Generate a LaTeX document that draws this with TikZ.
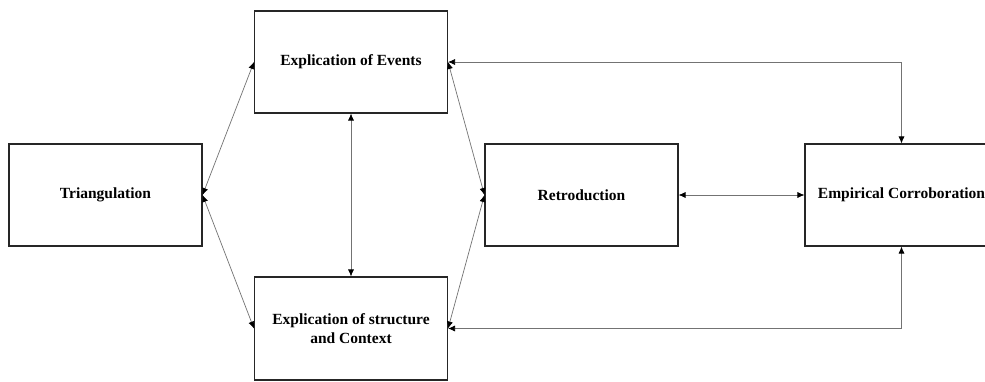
\documentclass[tikz,border=0pt]{standalone}
\usepackage{fontspec}
\setmainfont{Liberation Serif}
\usetikzlibrary{arrows.meta}
\begin{document}
\begin{tikzpicture}[x=1pt,y=-1pt,
  box/.style={draw=black!85,line width=1.1pt,fill=white,minimum width=193pt,minimum height=102pt,
    inner sep=0pt,align=center,font=\fontsize{15.5}{19}\selectfont\bfseries},
  conn/.style={draw=black!55,line width=0.7pt,{Latex[length=7pt,width=6pt,black]}-{Latex[length=7pt,width=6pt,black]}}]
\useasboundingbox (0,0) rectangle (985,381);
\clip (0,0) rectangle (985,381);
\fill[white] (0,0) rectangle (985,381);
\node[box] (tri) at (105.5,195) {Triangulation};
\node[box] (ev) at (351,62) {Explication of Events};
\node[box,minimum height=103pt] (st) at (351,328.5) {Explication of structure\\and Context};
\node[box] (re) at (581.5,195) {Retroduction};
\node[box] (em) at (901.5,195) {Empirical Corroboration};
\draw[conn] (tri.east) -- (ev.west);
\draw[conn] (tri.east) -- (st.west);
\draw[conn] (ev.south) -- (st.north);
\draw[conn] (ev.east) -- (re.west);
\draw[conn] (st.east) -- (re.west);
\draw[conn] (re.east) -- (em.west);
\draw[conn] (ev.east) -| (em.north);
\draw[conn] (st.east) -| (em.south);
\end{tikzpicture}
\end{document}
